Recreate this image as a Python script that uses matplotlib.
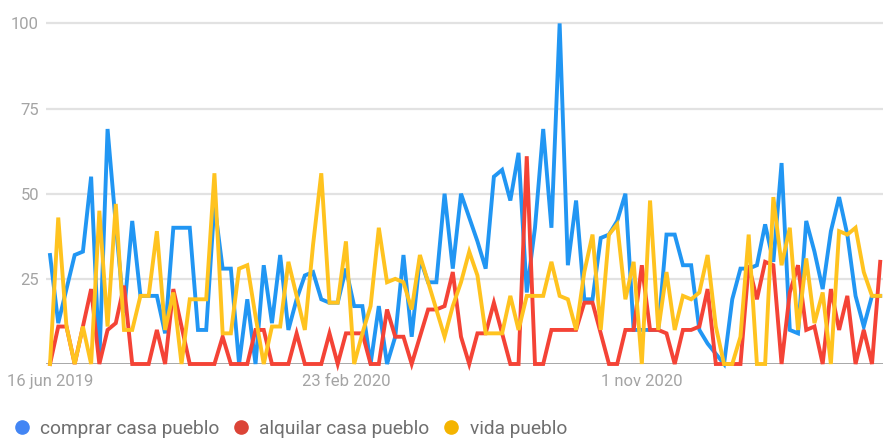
import numpy as np
import matplotlib
matplotlib.use("Agg")
import matplotlib.pyplot as plt
from matplotlib.lines import Line2D

# weekly interest, 16 jun 2019 onwards (102 weeks)
comprar = [32, 12, 22, 32, 33, 55, 1, 69, 41, 15,
           42, 20, 20, 20, 9, 40, 40, 40, 10, 10,
           47, 28, 28, 0, 19, 0, 29, 12, 32, 10,
           19, 26, 27, 19, 18, 18, 28, 17, 17, 0,
           17, 0, 8, 32, 8, 31, 24, 24, 50, 28,
           50, 43, 36, 28, 55, 57, 48, 62, 21, 40,
           69, 40, 100, 29, 48, 19, 19, 37, 38, 42,
           50, 10, 10, 10, 10, 38, 38, 29, 29, 10,
           6, 3, 0, 19, 28, 28, 29, 41, 30, 59,
           10, 9, 42, 33, 22, 39, 49, 38, 20, 11,
           20, 20]
alquilar = [0, 11, 11, 0, 11, 22, 0, 10, 12, 23,
            0, 0, 0, 10, 0, 22, 11, 0, 0, 0,
            0, 8, 0, 0, 0, 10, 10, 0, 0, 0,
            9, 0, 0, 0, 9, 0, 9, 9, 9, 0,
            0, 16, 8, 8, 0, 8, 16, 16, 17, 27,
            8, 0, 9, 9, 18, 9, 0, 0, 61, 0,
            0, 10, 10, 10, 10, 18, 18, 9, 0, 0,
            10, 10, 29, 10, 10, 9, 0, 10, 10, 11,
            22, 0, 0, 0, 0, 29, 19, 30, 29, 0,
            21, 29, 10, 11, 0, 22, 10, 20, 0, 10,
            0, 30]
vida = [0, 43, 11, 0, 11, 0, 45, 11, 47, 10,
        10, 20, 20, 39, 10, 21, 0, 19, 19, 19,
        56, 9, 9, 28, 29, 14, 0, 11, 11, 30,
        20, 10, 35, 56, 18, 18, 36, 0, 9, 17,
        40, 24, 25, 24, 16, 32, 24, 16, 8, 17,
        24, 33, 26, 9, 9, 9, 20, 10, 20, 20,
        20, 30, 20, 19, 10, 27, 38, 10, 38, 41,
        19, 30, 0, 48, 10, 27, 10, 20, 19, 21,
        32, 11, 0, 0, 8, 38, 0, 0, 49, 29,
        40, 10, 31, 12, 21, 0, 39, 38, 40, 27,
        20, 20]

series_names = ["comprar casa pueblo", "alquilar casa pueblo", "vida pueblo"]
line_colors = ["#2196f3", "#f44336", "#ffc31f"]
dot_colors = ["#4285f4", "#db4437", "#f4b400"]

xtick_pos = [0, 36, 72]
xtick_labels = ["16 jun 2019", "23 feb 2020", "1 nov 2020"]
ytick_pos = [25, 50, 75, 100]

weeks = np.arange(len(comprar))

fig = plt.figure(figsize=(8.83, 4.38), dpi=100)
ax = fig.add_axes([46 / 883, (438 - 364) / 438, 1 - 46 / 883, 344 / 438])

for vals, col in zip([comprar, alquilar, vida], line_colors):
    ax.plot(weeks, vals, color=col, lw=2.8, solid_joinstyle="miter",
            clip_on=False, zorder=3)

ax.set_xlim(-0.49, 101.34)
ax.set_ylim(0, 101.0)

for v in ytick_pos:
    ax.axhline(v, color="#e2e2e2", lw=1.6, zorder=1)
ax.axhline(0, color="#a8a8a8", lw=1.4, zorder=2)

for s in ax.spines.values():
    s.set_visible(False)

ax.set_xticks(xtick_pos)
ax.set_xticklabels(xtick_labels, family="Roboto", fontsize=12, color="#a4a4a4")
ax.set_yticks(ytick_pos)
ax.set_yticklabels([str(v) for v in ytick_pos], family="Roboto", fontsize=12,
                   color="#a4a4a4")
ax.tick_params(axis="both", length=0)
ax.tick_params(axis="y", pad=5)
ax.tick_params(axis="x", pad=7)

handles = [Line2D([], [], marker="o", linestyle="", markersize=9.5,
                  markerfacecolor=c, markeredgecolor=c) for c in dot_colors]
fig.legend(handles, series_names, loc="center left",
           bbox_to_anchor=(14 / 883, 1 - 429 / 438), ncol=3, frameon=False,
           handlelength=0.8, handletextpad=0.55, columnspacing=0.74,
           borderaxespad=0, borderpad=0,
           prop={"family": "Roboto", "size": 13.8}, labelcolor="#6f6f6f")

fig.savefig("out.png", dpi=100)
